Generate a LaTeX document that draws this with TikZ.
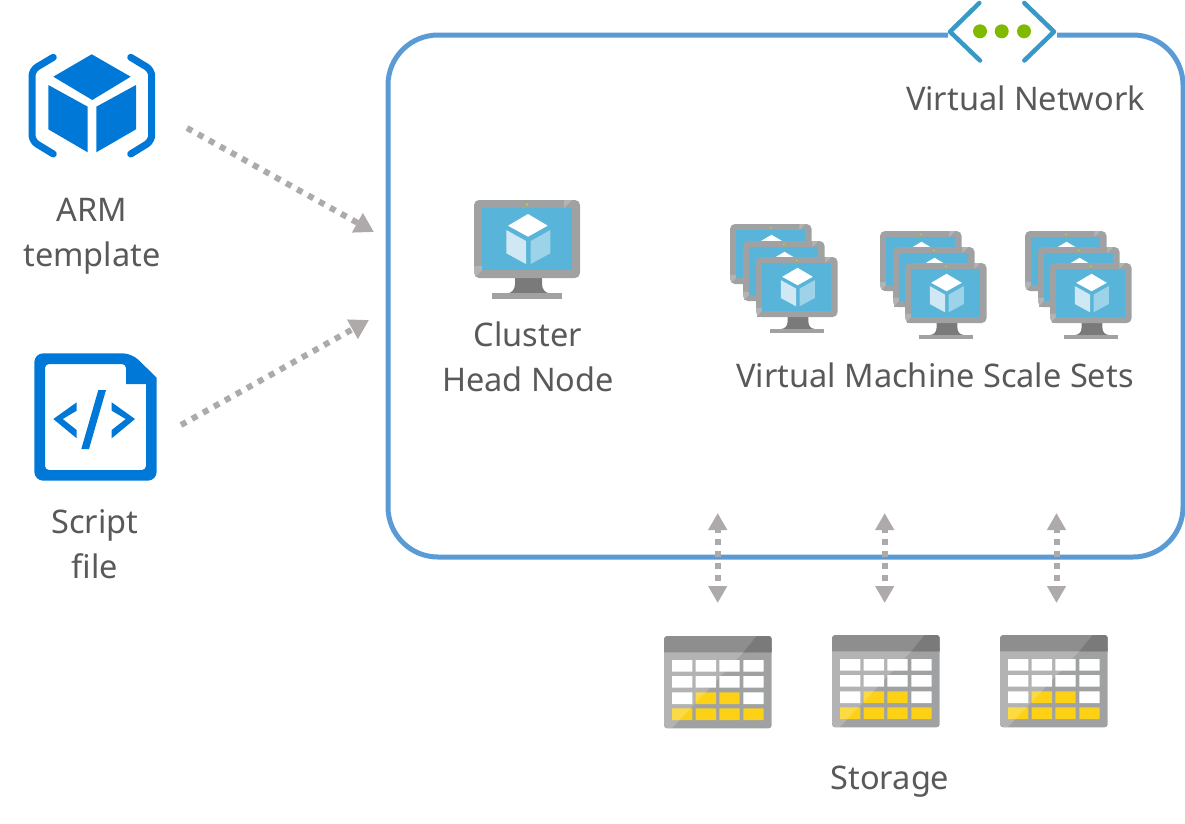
\documentclass[tikz,border=0pt]{standalone}
\usepackage{fontspec}
\setmainfont{Noto Sans}
\usetikzlibrary{arrows.meta}
\definecolor{azblue}{HTML}{0078D7}
\definecolor{netblue}{HTML}{5B9BD5}
\definecolor{chevblue}{HTML}{3999C6}
\definecolor{netgreen}{HTML}{7FBA00}
\definecolor{vmgray}{HTML}{A0A1A2}
\definecolor{vmdark}{HTML}{7A7A7A}
\definecolor{vmscreen}{HTML}{59B4D9}
\definecolor{cubeleft}{HTML}{D0E8F4}
\definecolor{cuberight}{HTML}{9CD3E8}
\definecolor{vmled}{HTML}{B8D432}
\definecolor{tablegold}{HTML}{FCD116}
\definecolor{labelgray}{HTML}{595959}
\definecolor{arrowgray}{HTML}{AEAAAA}
\tikzset{
    lbl/.style={text=labelgray,font=\fontsize{32.5}{45}\selectfont,align=center,inner sep=0pt},
    flow/.style={draw=arrowgray,line width=6pt,dash pattern=on 6pt off 6.6pt,-{Triangle[length=19pt,width=21pt]}},
    syncflow/.style={draw=arrowgray,line width=6pt,dash pattern=on 6pt off 6pt,dash phase=2pt,{Triangle[length=17pt,width=18pt]}-{Triangle[length=17pt,width=18pt]}},
    vmicon/.pic={
        \fill[vmdark] (41,78) -- (41,84) .. controls (41,90) and (37,93.3) .. (33,93.3) -- (76,93.3) .. controls (72,93.3) and (68,90) .. (68,84) -- (68,78) -- cycle;
        \fill[vmgray] (18,93.3) rectangle (88,99.3);
        \fill[vmgray,rounded corners=5pt] (0,0) rectangle (106,78);
        \fill[white,opacity=.2] (0,78) -- (8,70) -- (8,66) -- (0,66) -- cycle;
        \fill[white,opacity=.2] (90,8) -- (98,0) -- (90,0) -- cycle;
        \fill[vmscreen] (8,8) rectangle (98,70);
        \fill[vmled] (53,4.5) circle (1.3);
        \fill[white] (54,14) -- (73.7,25.7) -- (54,36.7) -- (34,25.7) -- cycle;
        \fill[cubeleft] (32.3,30) -- (52,41) -- (52,64) -- (32.3,53.3) -- cycle;
        \fill[cuberight] (56.7,41) -- (76.3,30) -- (76.3,53.3) -- (56.7,64) -- cycle;
    },
    tableicon/.pic={
        \fill[vmgray,rounded corners=3pt] (0,10) -- (0,92.3) -- (107.7,92.3) -- (107.7,10) -- cycle;
        \fill[vmdark!85!white,rounded corners=3pt] (0,16.3) -- (0,0) -- (107.7,0) [sharp corners] -- (107.7,16.3) -- cycle;
        \fill[vmdark,rounded corners=3pt] (92.7,0) -- (107.7,0) [sharp corners] -- (107.7,16.3) -- (79.3,16.3) -- cycle;
        \fill[white] (8,24) rectangle ++(20.3,11.7) (31.7,24) rectangle ++(20.3,11.7) (55.3,24) rectangle ++(20.3,11.7) (79.3,24) rectangle ++(20.3,11.7)
            (8,40) rectangle ++(20.3,11.7) (31.7,40) rectangle ++(20.3,11.7) (55.3,40) rectangle ++(20.3,11.7) (79.3,40) rectangle ++(20.3,11.7)
            (8,56.3) rectangle ++(20.3,11.7) (79.3,56.3) rectangle ++(20.3,11.7);
        \fill[tablegold] (31.7,56.3) rectangle ++(20.3,11.7) (55.3,56.3) rectangle ++(20.3,11.7)
            (8,72.3) rectangle ++(20.3,11.7) (31.7,72.3) rectangle ++(20.3,11.7) (55.3,72.3) rectangle ++(20.3,11.7) (79.3,72.3) rectangle ++(20.3,11.7);
        \fill[white,opacity=.2] (0,16.3) -- (79.3,16.3) -- (7.7,92.3) -- (3,92.3) -- (0,89) -- cycle;
    }
}
\begin{document}
\begin{tikzpicture}[x=1pt,y=-1pt]
    \useasboundingbox (0,0) rectangle (1185,823);

    % virtual network box, open where the icon sits
    \draw[netblue,line width=5pt,rounded corners=50pt] (948,35) -- (388,35) -- (388,557) -- (1183,557) -- (1183,35) -- (1057,35);
    \draw[chevblue,line width=4.5pt,line cap=round,line join=round] (979.3,3) -- (950,31.7) -- (980,60.5);
    \draw[chevblue,line width=4.5pt,line cap=round,line join=round] (1024.3,3) -- (1054,31.7) -- (1024.3,60.5);
    \fill[netgreen] (980,31.3) circle (7);
    \fill[netgreen] (1001.7,31.3) circle (7);
    \fill[netgreen] (1024,31.3) circle (7);
    \node[lbl] (vnet) at (1025.5,98) {Virtual Network};

    % arm template
    \fill[azblue] (91.7,54.3) -- (130.7,76.7) -- (92.3,100) -- (53.3,76.7) -- cycle;
    \fill[azblue] (48.3,85) -- (87.7,106.7) -- (87.7,152.3) -- (48.3,129.3) -- cycle;
    \fill[azblue] (96.3,106.7) -- (136,85) -- (136,129.3) -- (96.3,152.3) -- cycle;
    \draw[azblue,line width=7pt,line cap=round,rounded corners=6pt] (53.3,57.3) -- (32,70) -- (32,141) -- (53.3,154);
    \draw[azblue,line width=7pt,line cap=round,rounded corners=6pt] (130.7,57.3) -- (151.7,70) -- (151.7,141) -- (130.7,154);
    \node[lbl] (arm) at (92,236.5) {ARM\\template};

    % script file
    \fill[azblue,even odd rule,rounded corners=9pt] (34.3,480.7) -- (34.3,353.3) -- (131.7,353.3) [sharp corners] -- (156.7,377.7) [rounded corners=9pt] -- (156.7,480.7) -- cycle
        (45,470) [rounded corners=4pt] -- (45,364) -- (126,364) [sharp corners] -- (126,384) -- (146,384) [rounded corners=4pt] -- (146,470) -- cycle;
    \fill[azblue] (76.7,402.3) -- (53.3,419) -- (76.7,438.3) -- (76.7,430) -- (62.7,419) -- (76.7,410.7) -- cycle;
    \fill[azblue] (111.7,402.3) -- (135,419) -- (111.7,438.3) -- (111.7,430) -- (125.7,419) -- (111.7,410.7) -- cycle;
    \fill[azblue] (98.3,390) -- (106,390) -- (89,449) -- (81.3,449) -- cycle;
    \node[lbl] (script) at (95,544) {Script\\file};

    % head node and scale sets
    \pic (head) at (474,200) {vmicon};
    \node[lbl] (headlbl) at (528,356.5) {Cluster\\Head Node};

    \pic[scale=.77] (vma) at (730,224) {vmicon};
    \pic[scale=.77] (vmb) at (743,241) {vmicon};
    \pic[scale=.77] (vmc) at (756,257) {vmicon};
    \pic[scale=.77] (vmd) at (880,231) {vmicon};
    \pic[scale=.77] (vme) at (893,247) {vmicon};
    \pic[scale=.77] (vmf) at (905,263) {vmicon};
    \pic[scale=.77] (vmg) at (1025,231) {vmicon};
    \pic[scale=.77] (vmh) at (1038,247) {vmicon};
    \pic[scale=.77] (vmi) at (1050,263) {vmicon};
    \node[lbl] (vmsslbl) at (935,375) {Virtual Machine Scale Sets};

    % storage
    \pic (tablea) at (664,636) {tableicon};
    \pic (tableb) at (832,635) {tableicon};
    \pic (tablec) at (1000,635) {tableicon};
    \node[lbl] (storage) at (890,782) {Storage};

    % connectors
    \coordinate (armend) at (187,128);
    \coordinate (armtip) at (374,232);
    \coordinate (scriptend) at (181,425);
    \coordinate (scripttip) at (369,320);
    \draw[flow] (armend) -- (armtip);
    \draw[flow] (scriptend) -- (scripttip);

    \coordinate (synca) at (717.7,513);
    \coordinate (syncb) at (884.7,513);
    \coordinate (syncc) at (1056.5,513);
    \coordinate (tipa) at (717.7,603);
    \coordinate (tipb) at (884.7,603);
    \coordinate (tipc) at (1056.5,603);
    \draw[syncflow] (synca) -- (tipa);
    \draw[syncflow] (syncb) -- (tipb);
    \draw[syncflow] (syncc) -- (tipc);
\end{tikzpicture}
\end{document}
